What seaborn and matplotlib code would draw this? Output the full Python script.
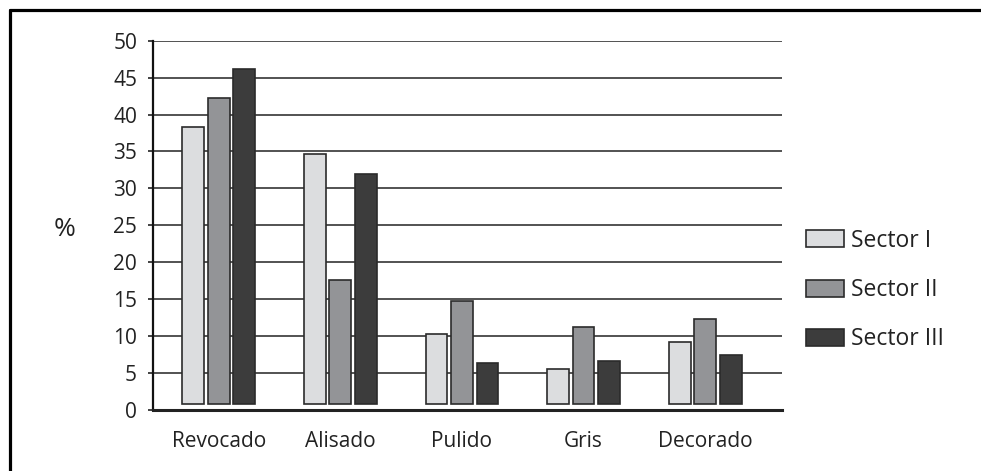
import numpy as np
import pandas as pd
import matplotlib
matplotlib.use('Agg')
import matplotlib.pyplot as plt
from matplotlib.lines import Line2D
import seaborn as sns

# data
categorias = ['Revocado', 'Alisado', 'Pulido', 'Gris', 'Decorado']
sector_1 = [38.3, 34.7, 10.3, 5.6, 9.2]
sector_2 = [42.2, 17.6, 14.8, 11.2, 12.3]
sector_3 = [46.2, 32.0, 6.4, 6.6, 7.4]
sectores = ['Sector I', 'Sector II', 'Sector III']
colores = ['#dcdddf', '#939497', '#3c3c3c']

df = pd.DataFrame({
    'cat': categorias * 3,
    'valor': sector_1 + sector_2 + sector_3,
    'sector': [s for s in sectores for _ in categorias],
})

sns.set_style('white')
plt.rcParams['font.family'] = ['Open Sans', 'DejaVu Sans']

fig = plt.figure(figsize=(9.81, 4.71), dpi=100)
ax = fig.add_axes([0.156, 0.1295, 0.641, 0.7841])

sns.barplot(data=df, x='cat', y='valor', hue='sector', palette=colores,
            width=0.63, gap=0.15, edgecolor='#2b2b2b', linewidth=1.2,
            saturation=1, ax=ax, zorder=3)

# bars in the original sit a little above the baseline
base = 0.85
for p in ax.patches:
    h = p.get_height()
    if h > 0:
        p.set_y(base)
        p.set_height(h - base)

ax.set_ylim(0, 50)
ax.set_xlim(-0.54, 4.63)
ax.set_yticks(np.arange(0, 51, 5))
ax.yaxis.grid(True, color='#444444', linewidth=1.3, zorder=0)
ax.set_axisbelow(True)

for s in ['top', 'right']:
    ax.spines[s].set_visible(False)
ax.spines['left'].set_color('#111111')
ax.spines['left'].set_linewidth(1.6)
ax.spines['bottom'].set_color('#222222')
ax.spines['bottom'].set_linewidth(2.2)

ax.tick_params(axis='y', direction='out', length=3.5, width=1.2, color='#222222',
               labelsize=15, pad=8, labelcolor='#222222', left=True)
ax.tick_params(axis='x', length=0, labelsize=15, pad=15, labelcolor='#222222')

ax.set_xlabel('')
ax.set_ylabel('%', rotation=0, fontsize=19, color='#222222', va='center', ha='center')
ax.yaxis.set_label_coords(-0.14, 0.488)

handles, labels = ax.get_legend_handles_labels()
ax.legend(handles, labels, loc='center left', bbox_to_anchor=(0.822, 0.384),
          bbox_transform=fig.transFigure, frameon=False, fontsize=16.5,
          handlelength=1.63, handleheight=0.77, handletextpad=0.3,
          labelspacing=1.1, borderpad=0, borderaxespad=0, labelcolor='#222222')

# outer frame (left and top edges)
fig.add_artist(Line2D([10 / 981, 10 / 981], [0, 1 - 10 / 471], transform=fig.transFigure,
                      color='black', linewidth=2.3))
fig.add_artist(Line2D([10 / 981, 1], [1 - 10 / 471, 1 - 10 / 471], transform=fig.transFigure,
                      color='black', linewidth=2.3))

fig.savefig('out.png', dpi=100)
